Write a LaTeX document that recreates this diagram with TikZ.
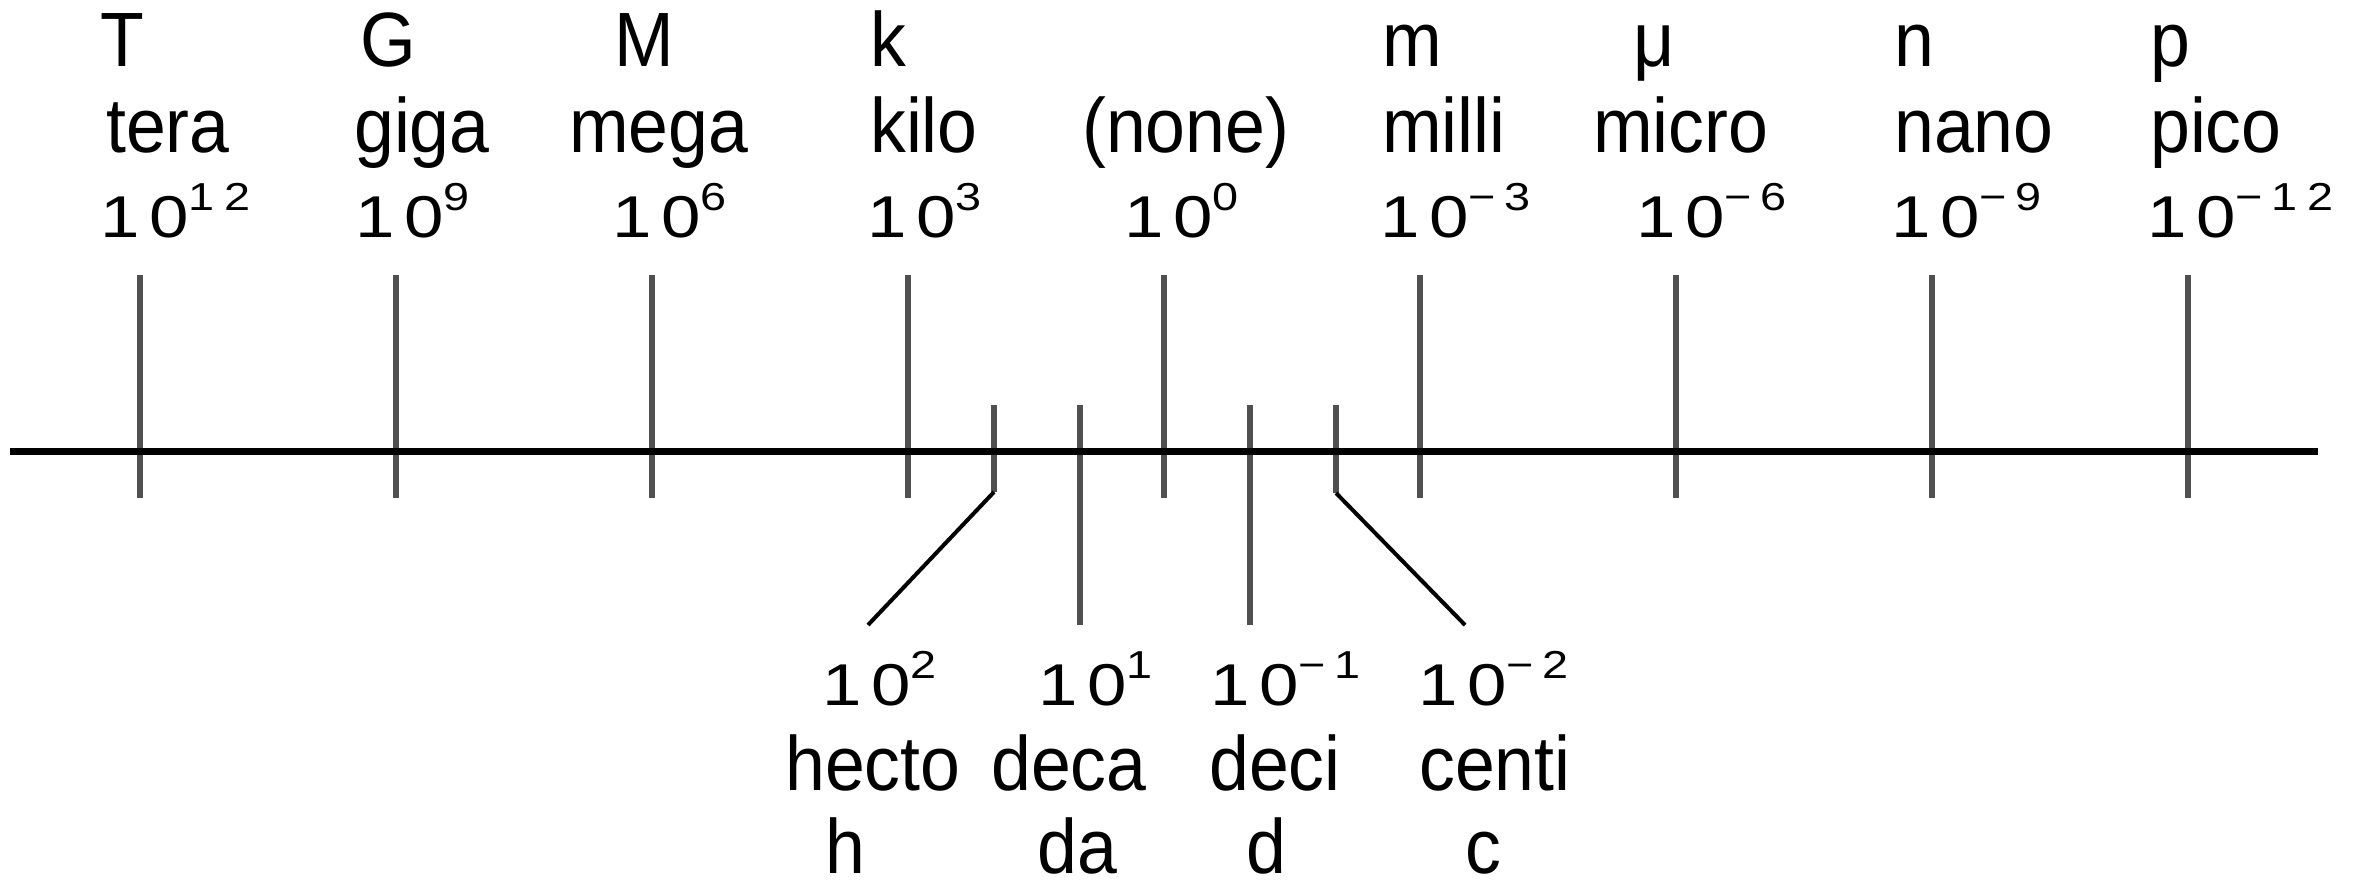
\documentclass[tikz,border=0pt]{standalone}
\usepackage{fontspec}
\setmainfont{Liberation Sans}[FakeStretch=0.93]
\newfontfamily\numfont{Liberation Sans}[FakeStretch=1.2]
\newcommand\tenp[1]{{\numfont\fontsize{59}{59}\selectfont 1\kern10pt 0\raisebox{27pt}{\fontsize{39}{39}\selectfont #1}}}
\definecolor{tickgray}{RGB}{80,80,80}
\begin{document}
\begin{tikzpicture}[x=1pt,y=-1pt,
  lbl/.style={anchor=base west, inner sep=0pt, font=\fontsize{77}{77}\selectfont},
  pw/.style={anchor=base west, inner sep=0pt},
  tickline/.style={line width=5.5pt, draw=tickgray},
  leader/.style={line width=4pt, draw=black},
  axisline/.style={line width=7pt, draw=black}]
\useasboundingbox (0,0) rectangle (2353,880);
% ticks
\foreach \n/\x in {T/140,G/396,M/652,k/908,one/1164,m/1420,mu/1676,n/1932,p/2188}{
  \coordinate (\n top) at (\x,275);
  \coordinate (\n bot) at (\x,498);
  \draw[tickline] (\n top) -- (\n bot);
}
\coordinate (h top) at (994,405);   \coordinate (h bend) at (994,492);  \coordinate (h end) at (868,625);
\coordinate (da top) at (1080,405); \coordinate (da end) at (1080,625);
\coordinate (d top) at (1250,405);  \coordinate (d end) at (1250,625);
\coordinate (c top) at (1336,405);  \coordinate (c bend) at (1336,493); \coordinate (c end) at (1465,625);
\draw[tickline] (h top) -- (h bend);
\draw[leader] (h bend) -- (h end);
\draw[tickline] (da top) -- (da end);
\draw[tickline] (d top) -- (d end);
\draw[tickline] (c top) -- (c bend);
\draw[leader] (c bend) -- (c end);
% axis
\coordinate (axisL) at (10,451);
\coordinate (axisR) at (2318,451);
\draw[axisline] (axisL) -- (axisR);
% top labels
\node[lbl] (sT) at (100,67) {T};
\node[lbl] (nT) at (106,153) {tera};
\node[pw]  (pT) at (100,237) {\tenp{1\kern10pt 2}};
\node[lbl] (sG) at (360,67) {G};
\node[lbl] (nG) at (354,153) {giga};
\node[pw]  (pG) at (355,237) {\tenp{9}};
\node[lbl] (sM) at (614,67) {M};
\node[lbl] (nM) at (569,153) {mega};
\node[pw]  (pM) at (612,237) {\tenp{6}};
\node[lbl] (sk) at (870,67) {k};
\node[lbl] (nk) at (870,153) {kilo};
\node[pw]  (pk) at (867,237) {\tenp{3}};
\node[lbl] (none) at (1082,153) {(none)};
\node[pw]  (pone) at (1124,237) {\tenp{0}};
\node[lbl] (sm) at (1382,67) {m};
\node[lbl] (nm) at (1382,153) {milli};
\node[pw]  (pm) at (1380,237) {\tenp{−\kern8pt 3}};
\node[lbl] (smu) at (1633,67) {μ};
\node[lbl] (nmu) at (1593,153) {micro};
\node[pw]  (pmu) at (1636,237) {\tenp{−\kern8pt 6}};
\node[lbl] (sn) at (1894,67) {n};
\node[lbl] (nn) at (1894,153) {nano};
\node[pw]  (pn) at (1891,237) {\tenp{−\kern8pt 9}};
\node[lbl] (sp) at (2150,67) {p};
\node[lbl] (np) at (2150,153) {pico};
\node[pw]  (pp) at (2147,237) {\tenp{−\kern8pt 1\kern10pt 2}};
% bottom labels
\node[pw]  (ph) at (822,705) {\tenp{2}};
\node[lbl] (nh) at (785,790) {hecto};
\node[lbl] (sh) at (825,873) {h};
\node[pw]  (pda) at (1038,705) {\tenp{1}};
\node[lbl] (nda) at (991,790) {deca};
\node[lbl] (sda) at (1037,873) {da};
\node[pw]  (pd) at (1210,705) {\tenp{−\kern8pt 1}};
\node[lbl] (nd) at (1209,790) {deci};
\node[lbl] (sd) at (1246,873) {d};
\node[pw]  (pc) at (1418,705) {\tenp{−\kern8pt 2}};
\node[lbl] (nc) at (1419,790) {centi};
\node[lbl] (sc) at (1465,873) {c};
\end{tikzpicture}
\end{document}
